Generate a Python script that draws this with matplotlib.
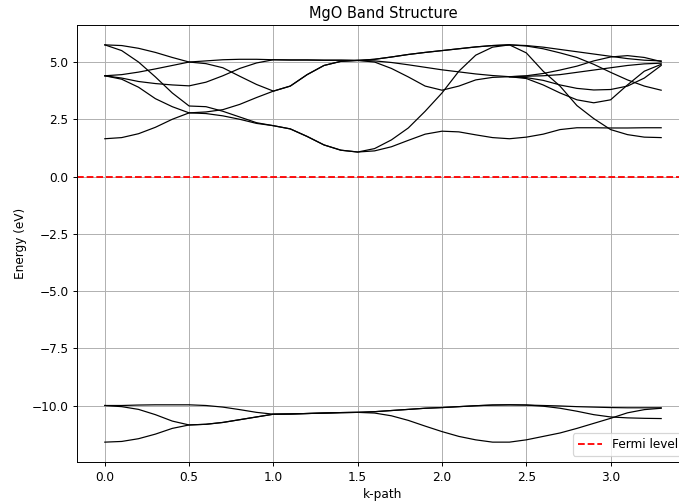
import matplotlib
matplotlib.use("Agg")
import matplotlib.pyplot as plt

# k-path sample points
k = [0.0, 0.1, 0.2, 0.3, 0.4, 0.5, 0.6, 0.7, 0.8, 0.9,
     1.0, 1.1, 1.2, 1.3, 1.4, 1.5, 1.6, 1.7, 1.8, 1.9,
     2.0, 2.1, 2.2, 2.3, 2.4, 2.5, 2.6, 2.7, 2.8, 2.9,
     3.0, 3.1, 3.2, 3.3]

# conduction bands (eV)
band_c1 = [5.75, 5.72, 5.60, 5.42, 5.20, 5.00, 5.05, 5.10, 5.12, 5.12,
           5.10, 5.09, 5.09, 5.08, 5.08, 5.07, 5.12, 5.22, 5.33, 5.42,
           5.50, 5.58, 5.66, 5.72, 5.75, 5.72, 5.65, 5.55, 5.45, 5.35,
           5.25, 5.15, 5.08, 5.05]
band_c2 = [4.40, 4.45, 4.56, 4.70, 4.85, 5.00, 4.93, 4.75, 4.38, 4.02,
           3.73, 3.95, 4.45, 4.85, 5.03, 5.07, 5.05, 4.98, 4.88, 4.77,
           4.66, 4.57, 4.48, 4.41, 4.36, 4.38, 4.40, 4.45, 4.55, 4.65,
           4.75, 4.85, 4.92, 4.95]
band_c3 = [4.40, 4.30, 4.15, 4.06, 4.00, 3.96, 4.12, 4.40, 4.72, 4.96,
           5.10, 5.09, 5.09, 5.08, 5.08, 5.07, 5.12, 5.22, 5.33, 5.42,
           5.50, 5.58, 5.66, 5.72, 5.75, 5.70, 5.58, 5.40, 5.20, 4.90,
           4.55, 4.22, 3.95, 3.77]
band_c4 = [5.75, 5.50, 5.00, 4.35, 3.65, 3.08, 3.05, 2.85, 2.60, 2.35,
           2.22, 2.08, 1.75, 1.38, 1.15, 1.07, 1.22, 1.60, 2.12, 2.85,
           3.65, 4.60, 5.30, 5.65, 5.75, 5.40, 4.60, 3.95, 3.10, 2.53,
           2.05, 1.83, 1.72, 1.70]
band_c5 = [4.40, 4.25, 3.90, 3.40, 3.05, 2.78, 2.82, 2.92, 3.15, 3.45,
           3.73, 3.95, 4.45, 4.85, 5.03, 5.07, 5.00, 4.72, 4.35, 3.95,
           3.77, 3.95, 4.22, 4.33, 4.36, 4.32, 4.20, 4.00, 3.85, 3.78,
           3.80, 3.95, 4.30, 4.85]
band_c6 = [1.65, 1.70, 1.87, 2.15, 2.50, 2.78, 2.75, 2.65, 2.50, 2.32,
           2.22, 2.08, 1.75, 1.38, 1.15, 1.07, 1.12, 1.30, 1.58, 1.85,
           1.98, 1.95, 1.82, 1.70, 1.65, 1.72, 1.85, 2.05, 2.13, 2.13,
           2.12, 2.12, 2.13, 2.13]

# extra branches on the last segment (k = 2.4 .. 3.3)
k_tail = [2.4, 2.5, 2.6, 2.7, 2.8, 2.9, 3.0, 3.1, 3.2, 3.3]
band_c7 = [4.36, 4.40, 4.50, 4.65, 4.82, 5.05, 5.22, 5.28, 5.20, 5.02]
band_c8 = [4.36, 4.28, 4.00, 3.65, 3.35, 3.22, 3.35, 4.00, 4.60, 4.90]

# valence bands (eV)
band_v1 = [-10.00, -10.00, -9.98, -9.97, -9.97, -9.97, -10.00, -10.07, -10.18, -10.30,
           -10.38, -10.37, -10.35, -10.33, -10.31, -10.30, -10.27, -10.22, -10.17, -10.12,
           -10.09, -10.05, -10.01, -9.98, -9.97, -9.98, -10.00, -10.02, -10.05, -10.07,
           -10.09, -10.10, -10.10, -10.10]
band_v2 = [-10.00, -10.05, -10.17, -10.40, -10.68, -10.85, -10.82, -10.74, -10.62, -10.50,
           -10.38, -10.37, -10.35, -10.33, -10.31, -10.30, -10.27, -10.22, -10.17, -10.12,
           -10.09, -10.05, -10.01, -9.98, -9.97, -9.98, -10.03, -10.12, -10.25, -10.40,
           -10.50, -10.54, -10.56, -10.57]
band_v3 = [-11.60, -11.57, -11.45, -11.25, -11.00, -10.85, -10.82, -10.74, -10.62, -10.50,
           -10.38, -10.37, -10.35, -10.33, -10.31, -10.30, -10.33, -10.45, -10.65, -10.90,
           -11.14, -11.35, -11.50, -11.60, -11.60, -11.50, -11.35, -11.20, -11.00, -10.78,
           -10.56, -10.32, -10.18, -10.12]

fermi_level = 0.0

full_bands = [band_v1, band_v2, band_v3,
              band_c1, band_c2, band_c3, band_c4, band_c5, band_c6]
tail_bands = [band_c7, band_c8]

# reference looks like a slightly shrunk default render, so use a lower dpi
DPI = 87.5
fig = plt.figure(figsize=(679 / DPI, 502 / DPI), dpi=DPI)
ax = fig.add_axes([77 / 679, 40 / 502, 612 / 679, 437 / 502])

for band in full_bands:
    ax.plot(k, band, color="k", lw=1)
for band in tail_bands:
    ax.plot(k_tail, band, color="k", lw=1)

ax.axhline(fermi_level, color="red", ls="--", label="Fermi level")

ax.set_title("MgO Band Structure")
ax.set_xlabel("k-path")
ax.set_ylabel("Energy (eV)")
ax.legend(loc="lower right")
ax.grid(True)

fig.savefig("out.png", dpi=DPI)
